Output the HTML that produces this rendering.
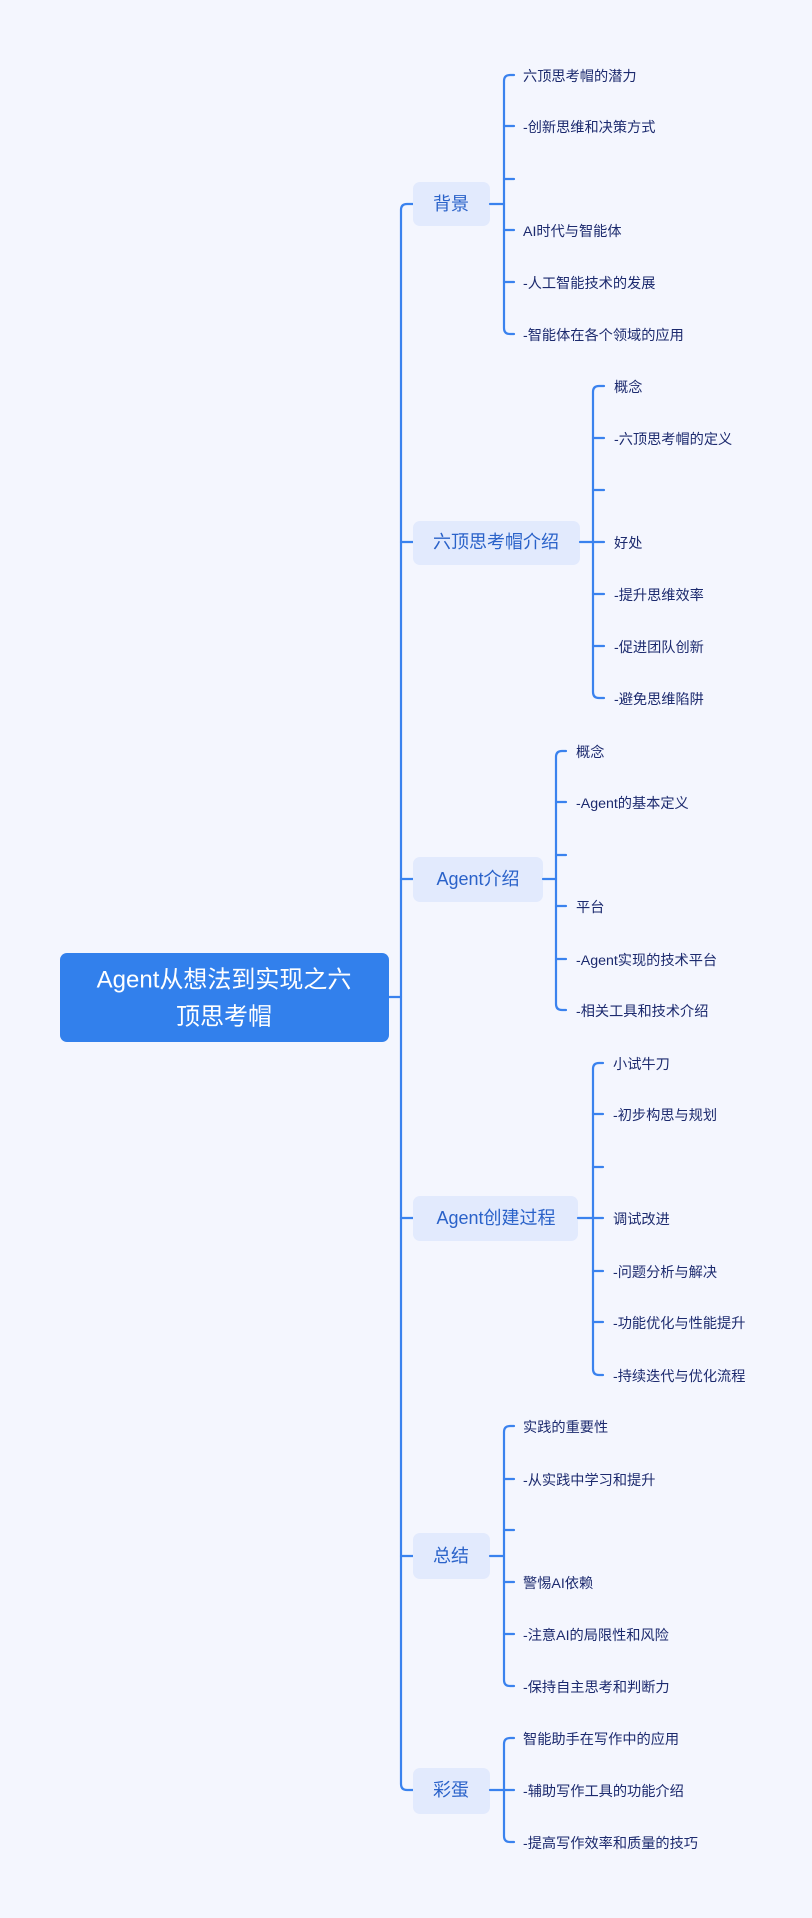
<!DOCTYPE html>
<html><head><meta charset="utf-8"><style>
html,body{margin:0;padding:0;background:#f4f6fe;}
svg{display:block}
.l{font-family:"Liberation Sans","Noto Sans CJK SC",sans-serif;font-size:14.2px;fill:#1c2a6e;dominant-baseline:middle}
.c{font-family:"Liberation Sans","Noto Sans CJK SC",sans-serif;font-size:18px;fill:#2a62c9;dominant-baseline:middle;text-anchor:middle}
.r{font-family:"Liberation Sans","Noto Sans CJK SC",sans-serif;font-size:24px;fill:#fff;dominant-baseline:middle;text-anchor:middle}
path{fill:none;stroke:#3a82ee;stroke-width:2.2;stroke-linecap:round}
</style></head><body>
<svg width="812" height="1918" viewBox="0 0 812 1918" xmlns="http://www.w3.org/2000/svg">
<rect width="812" height="1918" fill="#f4f6fe"/>
<path d="M389,997 H401"/>
<path d="M413,204 H407 Q401,204 401,210 V1784 Q401,1790 407,1790 H413"/>
<path d="M401,542 H413"/>
<path d="M401,879 H413"/>
<path d="M401,1218 H413"/>
<path d="M401,1556 H413"/>
<rect x="60" y="953" width="329" height="89" rx="7" fill="#3280ec"/>
<text class="r" x="224" y="979" dy="2">Agent从想法到实现之六</text>
<text class="r" x="224" y="1016" dy="2">顶思考帽</text>

<rect x="413" y="182" width="77" height="44" rx="7" fill="#e2eafd"/>
<text class="c" x="451" y="205" dy="0">背景</text>
<path d="M490,204 H504"/>
<path d="M514,75 H510 Q504,75 504,81 V328 Q504,334 510,334 H514"/>
<path d="M504,126 H514 M504,179 H514 M504,230 H514 M504,282 H514"/>
<text class="l" x="523" y="75" dy="2">六顶思考帽的潜力</text>
<text class="l" x="523" y="126" dy="2">-创新思维和决策方式</text>
<text class="l" x="523" y="230" dy="2">AI时代与智能体</text>
<text class="l" x="523" y="282" dy="2">-人工智能技术的发展</text>
<text class="l" x="523" y="334" dy="2">-智能体在各个领域的应用</text>

<rect x="413" y="521" width="167" height="44" rx="7" fill="#e2eafd"/>
<text class="c" x="496" y="543" dy="0">六顶思考帽介绍</text>
<path d="M580,542 H593"/>
<path d="M604,386 H599 Q593,386 593,392 V692 Q593,698 599,698 H604"/>
<path d="M593,438 H604 M593,490 H604 M593,542 H604 M593,594 H604 M593,646 H604"/>
<text class="l" x="614" y="386" dy="2">概念</text>
<text class="l" x="614" y="438" dy="2">-六顶思考帽的定义</text>
<text class="l" x="614" y="542" dy="2">好处</text>
<text class="l" x="614" y="594" dy="2">-提升思维效率</text>
<text class="l" x="614" y="646" dy="2">-促进团队创新</text>
<text class="l" x="614" y="698" dy="2">-避免思维陷阱</text>

<rect x="413" y="857" width="130" height="45" rx="7" fill="#e2eafd"/>
<text class="c" x="478" y="880" dy="0">Agent介绍</text>
<path d="M543,879 H556"/>
<path d="M566,751 H562 Q556,751 556,757 V1004 Q556,1010 562,1010 H566"/>
<path d="M556,802 H566 M556,855 H566 M556,906 H566 M556,959 H566"/>
<text class="l" x="576" y="751" dy="2">概念</text>
<text class="l" x="576" y="802" dy="2">-Agent的基本定义</text>
<text class="l" x="576" y="906" dy="2">平台</text>
<text class="l" x="576" y="959" dy="2">-Agent实现的技术平台</text>
<text class="l" x="576" y="1010" dy="2">-相关工具和技术介绍</text>

<rect x="413" y="1196" width="165" height="45" rx="7" fill="#e2eafd"/>
<text class="c" x="496" y="1219" dy="0">Agent创建过程</text>
<path d="M578,1218 H593"/>
<path d="M603,1063 H599 Q593,1063 593,1069 V1369 Q593,1375 599,1375 H603"/>
<path d="M593,1114 H603 M593,1167 H603 M593,1218 H603 M593,1271 H603 M593,1322 H603"/>
<text class="l" x="613" y="1063" dy="2">小试牛刀</text>
<text class="l" x="613" y="1114" dy="2">-初步构思与规划</text>
<text class="l" x="613" y="1218" dy="2">调试改进</text>
<text class="l" x="613" y="1271" dy="2">-问题分析与解决</text>
<text class="l" x="613" y="1322" dy="2">-功能优化与性能提升</text>
<text class="l" x="613" y="1375" dy="2">-持续迭代与优化流程</text>

<rect x="413" y="1533" width="77" height="46" rx="7" fill="#e2eafd"/>
<text class="c" x="451" y="1557" dy="0">总结</text>
<path d="M490,1556 H504"/>
<path d="M514,1426 H510 Q504,1426 504,1432 V1680 Q504,1686 510,1686 H514"/>
<path d="M504,1479 H514 M504,1530 H514 M504,1582 H514 M504,1634 H514"/>
<text class="l" x="523" y="1426" dy="2">实践的重要性</text>
<text class="l" x="523" y="1479" dy="2">-从实践中学习和提升</text>
<text class="l" x="523" y="1582" dy="2">警惕AI依赖</text>
<text class="l" x="523" y="1634" dy="2">-注意AI的局限性和风险</text>
<text class="l" x="523" y="1686" dy="2">-保持自主思考和判断力</text>

<rect x="413" y="1768" width="77" height="46" rx="7" fill="#e2eafd"/>
<text class="c" x="451" y="1791" dy="0">彩蛋</text>
<path d="M490,1790 H504"/>
<path d="M514,1738 H510 Q504,1738 504,1744 V1836 Q504,1842 510,1842 H514"/>
<path d="M504,1790 H514"/>
<text class="l" x="523" y="1738" dy="2">智能助手在写作中的应用</text>
<text class="l" x="523" y="1790" dy="2">-辅助写作工具的功能介绍</text>
<text class="l" x="523" y="1842" dy="2">-提高写作效率和质量的技巧</text>
</svg>
</body></html>
